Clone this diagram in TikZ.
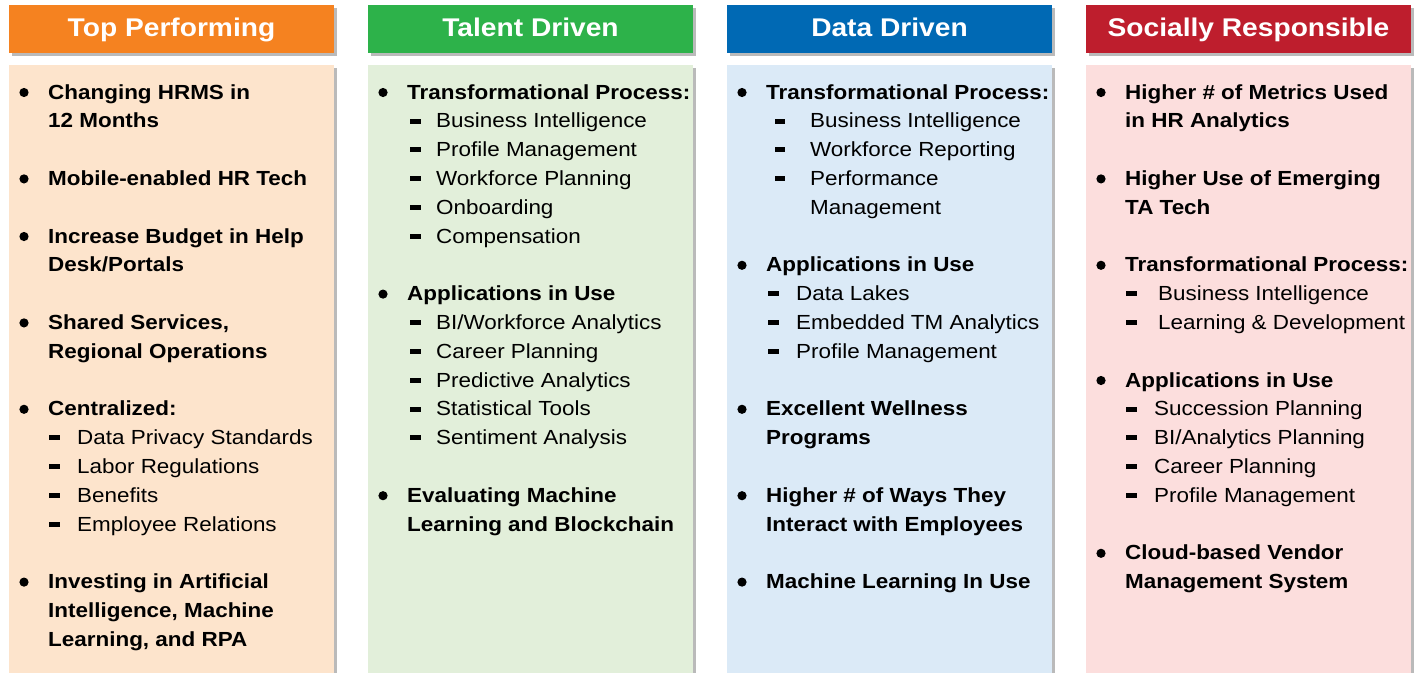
\documentclass[tikz,border=0pt]{standalone}
\usepackage{fontspec}
\setmainfont{Liberation Sans}[FakeStretch=1.1]
\usepackage{tikz}
\usetikzlibrary{shadows}

\definecolor{tphead}{HTML}{F58220}
\definecolor{tpback}{HTML}{FDE4CC}
\definecolor{tdhead}{HTML}{2DB24A}
\definecolor{tdback}{HTML}{E2EFDA}
\definecolor{ddhead}{HTML}{0069B4}
\definecolor{ddback}{HTML}{DBEAF7}
\definecolor{srhead}{HTML}{BE1E2D}
\definecolor{srback}{HTML}{FCDEDD}

\tikzset{
	shade/.style={drop shadow={shadow xshift=3pt, shadow yshift=-3pt, fill=black!45, opacity=0.6}},
	head/.style={shade, minimum width=325pt, minimum height=48pt, inner sep=0pt, text=white,
		font=\fontsize{25.6}{31}\selectfont\bfseries, text height=20pt, text depth=6pt},
	main/.style={anchor=base west, inner sep=0pt, font=\fontsize{20.4}{25}\selectfont\bfseries},
	sub/.style={anchor=base west, inner sep=0pt, font=\fontsize{20.4}{25}\selectfont}
}

% bullet and dash in front of a text node
\newcommand{\markdot}[1]{\fill ([xshift=-24pt,yshift=6.5pt]#1.base west) circle (4.6pt);}
\newcommand{\markbar}[2]{\fill ([xshift=-#2pt,yshift=4.3pt]#1.base west) rectangle ++(10.5pt,5pt);}

\begin{document}
\begin{tikzpicture}[x=1pt, y=-1pt]
		\useasboundingbox (0,0) rectangle (1418,672);
		\clip (0,0) rectangle (1418,672);

		% panels
		\fill [tpback, shade] (9,65) rectangle (334,700);
		\fill [tdback, shade] (368,65) rectangle (693,700);
		\fill [ddback, shade] (727,65) rectangle (1052,700);
		\fill [srback, shade] (1086,65) rectangle (1411,700);

		\node [head, fill=tphead] (tp) at (171.5,29) {Top Performing};
		\node [head, fill=tdhead] (td) at (530.5,29) {Talent Driven};
		\node [head, fill=ddhead] (dd) at (889.5,29) {Data Driven};
		\node [head, fill=srhead] (sr) at (1248.5,29) {Socially Responsible};

		% Top Performing
		\node [main] (tp0) at (48,99) {Changing HRMS in};
		\node [main] (tp1) at (48,127.8) {12 Months};
		\node [main] (tp3) at (48,185.4) {Mobile-enabled HR Tech};
		\node [main] (tp5) at (48,243) {Increase Budget in Help};
		\node [main] (tp6) at (48,271.8) {Desk/Portals};
		\node [main] (tp8) at (48,329.4) {Shared Services,};
		\node [main] (tp9) at (48,358.2) {Regional Operations};
		\node [main] (tp11) at (48,415.8) {Centralized:};
		\node [sub] (tp12) at (77,444.6) {Data Privacy Standards};
		\node [sub] (tp13) at (77,473.4) {Labor Regulations};
		\node [sub] (tp14) at (77,502.2) {Benefits};
		\node [sub] (tp15) at (77,531) {Employee Relations};
		\node [main] (tp17) at (48,588.6) {Investing in Artificial};
		\node [main] (tp18) at (48,617.4) {Intelligence, Machine};
		\node [main] (tp19) at (48,646.2) {Learning, and RPA};
		\markdot{tp0} \markdot{tp3} \markdot{tp5} \markdot{tp8} \markdot{tp11} \markdot{tp17}
		\markbar{tp12}{28} \markbar{tp13}{28} \markbar{tp14}{28} \markbar{tp15}{28}

		% Talent Driven
		\node [main] (td0) at (407,99) {Transformational Process:};
		\node [sub] (td1) at (436,127.8) {Business Intelligence};
		\node [sub] (td2) at (436,156.6) {Profile Management};
		\node [sub] (td3) at (436,185.4) {Workforce Planning};
		\node [sub] (td4) at (436,214.2) {Onboarding};
		\node [sub] (td5) at (436,243) {Compensation};
		\node [main] (td7) at (407,300.6) {Applications in Use};
		\node [sub] (td8) at (436,329.4) {BI/Workforce Analytics};
		\node [sub] (td9) at (436,358.2) {Career Planning};
		\node [sub] (td10) at (436,387) {Predictive Analytics};
		\node [sub] (td11) at (436,415.8) {Statistical Tools};
		\node [sub] (td12) at (436,444.6) {Sentiment Analysis};
		\node [main] (td14) at (407,502.2) {Evaluating Machine};
		\node [main] (td15) at (407,531) {Learning and Blockchain};
		\markdot{td0} \markdot{td7} \markdot{td14}
		\markbar{td1}{26} \markbar{td2}{26} \markbar{td3}{26} \markbar{td4}{26} \markbar{td5}{26}
		\markbar{td8}{26} \markbar{td9}{26} \markbar{td10}{26} \markbar{td11}{26} \markbar{td12}{26}

		% Data Driven
		\node [main] (dd0) at (766,99) {Transformational Process:};
		\node [sub] (dd1) at (810,127.8) {Business Intelligence};
		\node [sub] (dd2) at (810,156.6) {Workforce Reporting};
		\node [sub] (dd3) at (810,185.4) {Performance};
		\node [sub] (dd4) at (810,214.2) {Management};
		\node [main] (dd6) at (766,271.8) {Applications in Use};
		\node [sub] (dd7) at (796,300.6) {Data Lakes};
		\node [sub] (dd8) at (796,329.4) {Embedded TM Analytics};
		\node [sub] (dd9) at (796,358.2) {Profile Management};
		\node [main] (dd11) at (766,415.8) {Excellent Wellness};
		\node [main] (dd12) at (766,444.6) {Programs};
		\node [main] (dd14) at (766,502.2) {Higher \# of Ways They};
		\node [main] (dd15) at (766,531) {Interact with Employees};
		\node [main] (dd17) at (766,588.6) {Machine Learning In Use};
		\markdot{dd0} \markdot{dd6} \markdot{dd11} \markdot{dd14} \markdot{dd17}
		\markbar{dd1}{35.5} \markbar{dd2}{35.5} \markbar{dd3}{35.5}
		\markbar{dd7}{28} \markbar{dd8}{28} \markbar{dd9}{28}

		% Socially Responsible
		\node [main] (sr0) at (1125,99) {Higher \# of Metrics Used};
		\node [main] (sr1) at (1125,127.8) {in HR Analytics};
		\node [main] (sr3) at (1125,185.4) {Higher Use of Emerging};
		\node [main] (sr4) at (1125,214.2) {TA Tech};
		\node [main] (sr6) at (1125,271.8) {Transformational Process:};
		\node [sub] (sr7) at (1158,300.6) {Business Intelligence};
		\node [sub] (sr8) at (1158,329.4) {Learning \& Development};
		\node [main] (sr10) at (1125,387) {Applications in Use};
		\node [sub] (sr11) at (1154,415.8) {Succession Planning};
		\node [sub] (sr12) at (1154,444.6) {BI/Analytics Planning};
		\node [sub] (sr13) at (1154,473.4) {Career Planning};
		\node [sub] (sr14) at (1154,502.2) {Profile Management};
		\node [main] (sr16) at (1125,559.8) {Cloud-based Vendor};
		\node [main] (sr17) at (1125,588.6) {Management System};
		\markdot{sr0} \markdot{sr3} \markdot{sr6} \markdot{sr10} \markdot{sr16}
		\markbar{sr7}{32} \markbar{sr8}{32}
		\markbar{sr11}{28} \markbar{sr12}{28} \markbar{sr13}{28} \markbar{sr14}{28}
	\end{tikzpicture}
\end{document}
